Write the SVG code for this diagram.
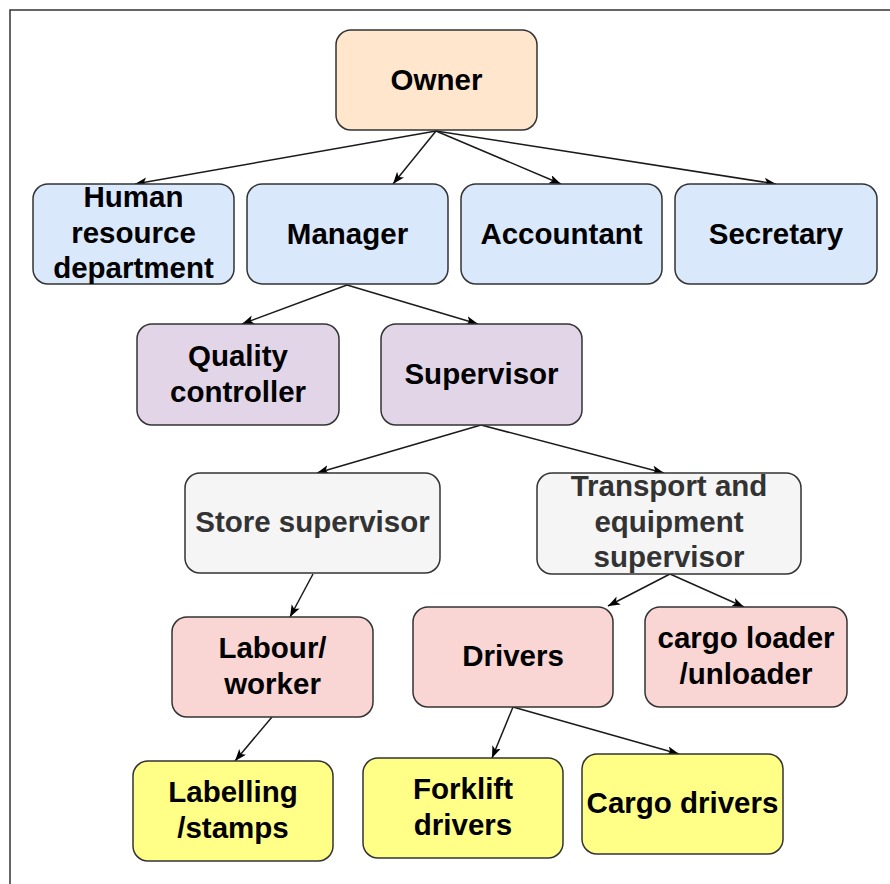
<svg xmlns="http://www.w3.org/2000/svg" width="890" height="884" viewBox="0 0 890 884">
<style>
.box{stroke:#333333;stroke-width:1.5}
.peach{fill:#ffe6cc}
.blue{fill:#dae8fc}
.purple{fill:#e1d5e7}
.gray{fill:#f5f5f5}
.pink{fill:#f9d6d3}
.yellow{fill:#ffff88}
text{font-family:"Liberation Sans",Arial,sans-serif;font-weight:bold;font-size:29.5px;text-anchor:middle;fill:#000}
text.dim{fill:#333333}
.conn line{stroke:#1a1a1a;stroke-width:1.5;fill:none;marker-end:url(#arr)}
</style>
<defs>
<marker id="arr" markerUnits="userSpaceOnUse" markerWidth="13" markerHeight="10" refX="12" refY="4.5" orient="auto">
<path d="M0,0 L12,4.5 L0,9 L3,4.5 Z" fill="#000"/>
</marker>
</defs>
<rect width="890" height="884" fill="#ffffff"/>
<path d="M10,884 V10 H890" fill="none" stroke="#333333" stroke-width="1.5"/>
<g class="conn">
<line x1="436" y1="131" x2="135" y2="184"/>
<line x1="436" y1="131" x2="393" y2="184"/>
<line x1="436" y1="131" x2="561" y2="184"/>
<line x1="436" y1="131" x2="776" y2="184"/>
<line x1="347" y1="285" x2="242" y2="324"/>
<line x1="347" y1="285" x2="478" y2="324"/>
<line x1="481" y1="425" x2="317" y2="473"/>
<line x1="481" y1="425" x2="664" y2="473"/>
<line x1="313" y1="574" x2="290" y2="617"/>
<line x1="272" y1="717" x2="235" y2="761"/>
<line x1="670" y1="574" x2="608" y2="606"/>
<line x1="670" y1="574" x2="744" y2="607"/>
<line x1="513" y1="707" x2="492" y2="758"/>
<line x1="513" y1="707" x2="679" y2="754"/>
</g>
<g id="owner"><rect class="box peach" x="336" y="30" width="201" height="100" rx="15"/><text x="436.5" y="90">Owner</text></g>
<g id="hr"><rect class="box blue" x="33" y="184" width="201" height="100" rx="15"/><text x="133.5" y="207">Human</text><text x="133.5" y="243">resource</text><text x="133.5" y="278">department</text></g>
<g id="manager"><rect class="box blue" x="247" y="184" width="201" height="100" rx="15"/><text x="347.5" y="244">Manager</text></g>
<g id="accountant"><rect class="box blue" x="461" y="184" width="201" height="100" rx="15"/><text x="561.5" y="244">Accountant</text></g>
<g id="secretary"><rect class="box blue" x="675" y="184" width="202" height="100" rx="15"/><text x="776" y="244">Secretary</text></g>
<g id="quality"><rect class="box purple" x="137" y="324" width="202" height="101" rx="15"/><text x="238" y="366">Quality</text><text x="238" y="402">controller</text></g>
<g id="supervisor"><rect class="box purple" x="381" y="324" width="201" height="101" rx="15"/><text x="481.5" y="384">Supervisor</text></g>
<g id="store"><rect class="box gray" x="185" y="473" width="255" height="100" rx="15"/><text class="dim" x="312.5" y="532">Store supervisor</text></g>
<g id="transport"><rect class="box gray" x="537" y="473" width="264" height="101" rx="15"/><text class="dim" x="669" y="496">Transport and</text><text class="dim" x="669" y="532">equipment</text><text class="dim" x="669" y="567">supervisor</text></g>
<g id="labour"><rect class="box pink" x="172" y="617" width="201" height="100" rx="15"/><text x="272.5" y="658">Labour/</text><text x="272.5" y="694">worker</text></g>
<g id="drivers"><rect class="box pink" x="413" y="607" width="200" height="100" rx="15"/><text x="513" y="666">Drivers</text></g>
<g id="cargoloader"><rect class="box pink" x="645" y="607" width="202" height="100" rx="15"/><text x="746" y="648">cargo loader</text><text x="746" y="684">/unloader</text></g>
<g id="labelling"><rect class="box yellow" x="133" y="761" width="200" height="100" rx="15"/><text x="233" y="802">Labelling</text><text x="233" y="838">/stamps</text></g>
<g id="forklift"><rect class="box yellow" x="363" y="758" width="200" height="100" rx="15"/><text x="463" y="799">Forklift</text><text x="463" y="835">drivers</text></g>
<g id="cargodrivers"><rect class="box yellow" x="582" y="754" width="201" height="100" rx="15"/><text x="682.5" y="813">Cargo drivers</text></g>
</svg>
